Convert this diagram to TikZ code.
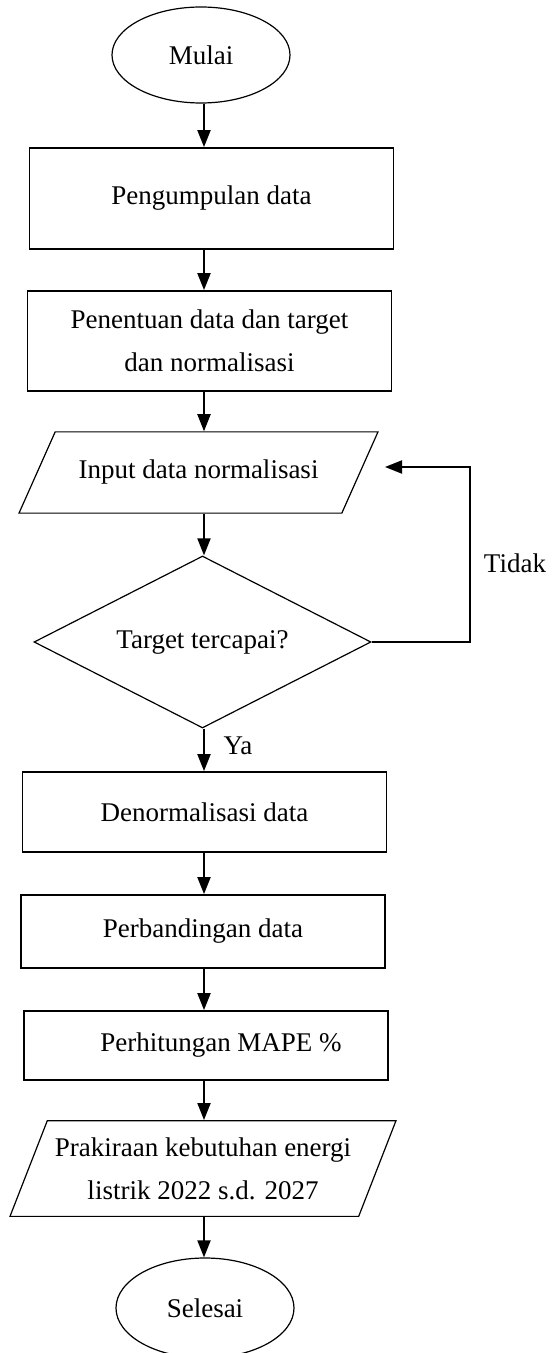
\documentclass[tikz,border=0pt]{standalone}
\usepackage{fontspec}
\setmainfont{Liberation Serif}
\usetikzlibrary{shapes.geometric,arrows.meta}

\begin{document}
\begin{tikzpicture}[x=0.5pt,y=-0.5pt,
  every node/.style={font=\fontsize{13.5}{21.5}\selectfont, inner sep=0pt, align=center},
  proses/.style={draw, line width=0.9pt, rectangle, minimum width=182pt},
  terminal/.style={draw, line width=0.6pt, ellipse, minimum width=89pt},
  io/.style={draw, line width=0.6pt, trapezium, trapezium stretches body},
  keputusan/.style={draw, line width=0.6pt, diamond, aspect=2, minimum width=168.5pt, minimum height=86pt},
  panah/.style={line width=1pt, -{Triangle[length=8.5pt,width=6.5pt]}}]
\useasboundingbox (0,0) rectangle (551,1353);
\clip (0,0) rectangle (551,1353);
\coordinate (spine) at (204,0);
\node[terminal, minimum height=48pt] (mulai) at (201,55) {Mulai};
\node[proses, minimum height=50.5pt] (kumpul) at (211.5,198.5) {Pengumpulan data};
\node[proses, minimum height=50pt] (tentukan) at (209.5,341) {Penentuan data dan target\\dan normalisasi};
\node[io, trapezium left angle=66, trapezium right angle=114, minimum width=179.5pt, inner ysep=14.2pt] (masukan) at (198.5,472.5) {Input data normalisasi};
\node[keputusan] (cek) at (202.5,642) {Target tercapai?};
\node[proses, minimum height=40pt] (denorm) at (204.5,812) {Denormalisasi data};
\node[proses, minimum height=36.5pt] (banding) at (203,931.5) {Perbandingan data};
\node[proses, minimum height=34.5pt] (mape) at (206,1045.5) {\hspace*{15pt}Perhitungan MAPE \%};
\node[io, trapezium left angle=68.7, trapezium right angle=111.3, minimum width=193pt, inner ysep=8.4pt] (prakiraan) at (203,1168.5) {Prakiraan kebutuhan energi\\listrik 2022 s.d. 2027};
\node[terminal, minimum height=50pt] (selesai) at (205,1308) {Selesai};
\node (ya) at (238,746) {Ya};
\node (tidak) at (515,563) {Tidak};
\coordinate (pojok) at (470,467);
\coordinate (ujung) at (385,467);
\foreach \a/\b in {mulai/kumpul, kumpul/tentukan, tentukan/masukan, masukan/cek, cek/denorm, denorm/banding, banding/mape, mape/prakiraan, prakiraan/selesai}
  \draw[panah] (\a.south -| spine) -- (\b.north -| spine);
\draw[panah] (cek.east) -| (pojok) -- (ujung);
\end{tikzpicture}
\end{document}
